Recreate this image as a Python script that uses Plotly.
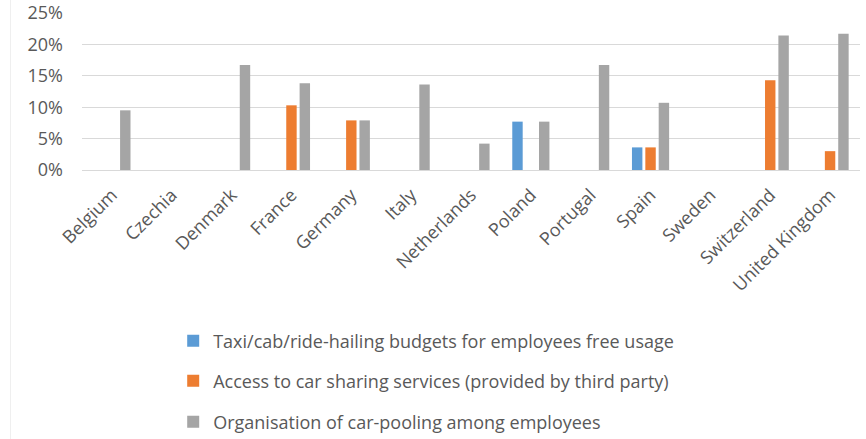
import plotly.graph_objects as go

# Share of companies offering each shared-mobility benefit, by country (%)
countries = ["Belgium", "Czechia", "Denmark", "France", "Germany", "Italy",
             "Netherlands", "Poland", "Portugal", "Spain", "Sweden",
             "Switzerland", "United Kingdom"]
taxi_budgets = [0, 0, 0, 0, 0, 0, 0, 7.7, 0, 3.6, 0, 0, 0]
car_sharing = [0, 0, 0, 10.3, 7.9, 0, 0, 0, 0, 3.6, 0, 14.3, 3.0]
car_pooling = [9.5, 0, 16.7, 13.8, 7.9, 13.6, 4.2, 7.7, 16.7, 10.7, 0, 21.4, 21.7]

series_names = [
    "Taxi/cab/ride-hailing budgets for employees free usage",
    "Access to car sharing services (provided by third party)",
    "Organisation of car-pooling among employees",
]
series_values = [taxi_budgets, car_sharing, car_pooling]
series_colors = ["#5B9BD5", "#ED7D31", "#A5A5A5"]
y_ticks = [0, 5, 10, 15, 20, 25]
y_tick_labels = ["0%", "5%", "10%", "15%", "20%", "25%"]

FONT = "Open Sans"
TEXT_COLOR = "#595959"
FONT_SIZE = 18
W, H = 866, 439
M_L, M_R, M_T, M_B = 82, 6, 13, 269

fig = go.Figure()
legend_ids = ["legend", "legend2", "legend3"]
for name, vals, color, lg in zip(series_names, series_values, series_colors, legend_ids):
    fig.add_trace(go.Bar(
        x=countries, y=vals, name=name, legend=lg,
        marker=dict(color=color, line=dict(width=0)),
        hovertemplate="%{x}: %{y:.1f}%<extra>" + name + "</extra>",
    ))

# One legend per series so the rows can be spaced evenly below the chart
legend_rows_y = [341, 381, 422]
legend_common = dict(
    xref="container", yref="container", x=0.2, xanchor="left", yanchor="middle",
    font=dict(family=FONT, size=FONT_SIZE, color=TEXT_COLOR), bgcolor="rgba(0,0,0,0)",
    itemwidth=30, orientation="v",
)
layout_legends = {}
for lg, ypx in zip(legend_ids, legend_rows_y):
    layout_legends[lg] = dict(legend_common, y=1 - ypx / H)

# Faint frame edge on the left side of the chart area
plot_w = W - M_L - M_R
plot_h = H - M_T - M_B
frame_x = (10.5 - M_L) / plot_w
fig.add_shape(
    type="line", xref="paper", yref="paper",
    x0=frame_x, x1=frame_x, y0=-M_B / plot_h, y1=1 + M_T / plot_h,
    line=dict(color="#EFEFEF", width=1), layer="below",
)

fig.update_layout(
    width=W, height=H,
    margin=dict(l=M_L, r=M_R, t=M_T, b=M_B, autoexpand=False),
    paper_bgcolor="white", plot_bgcolor="white",
    barmode="group", bargap=0.33, bargroupgap=0.22,
    showlegend=True,
    font=dict(family=FONT, size=FONT_SIZE, color=TEXT_COLOR),
    xaxis=dict(
        tickangle=-45, showgrid=False, showline=False, zeroline=False,
        ticks="", ticklabelstandoff=10, automargin=False,
        tickfont=dict(family=FONT, size=FONT_SIZE, color=TEXT_COLOR),
    ),
    yaxis=dict(
        range=[0, 25], tickvals=y_ticks, ticktext=y_tick_labels,
        showgrid=True, gridcolor="#D9D9D9", gridwidth=1.3,
        zeroline=True, zerolinecolor="#D9D9D9", zerolinewidth=1.3,
        showline=False, ticks="", ticklabelstandoff=18, automargin=False,
        tickfont=dict(family=FONT, size=FONT_SIZE, color=TEXT_COLOR),
    ),
    **layout_legends,
)

fig.write_html("out.html")
